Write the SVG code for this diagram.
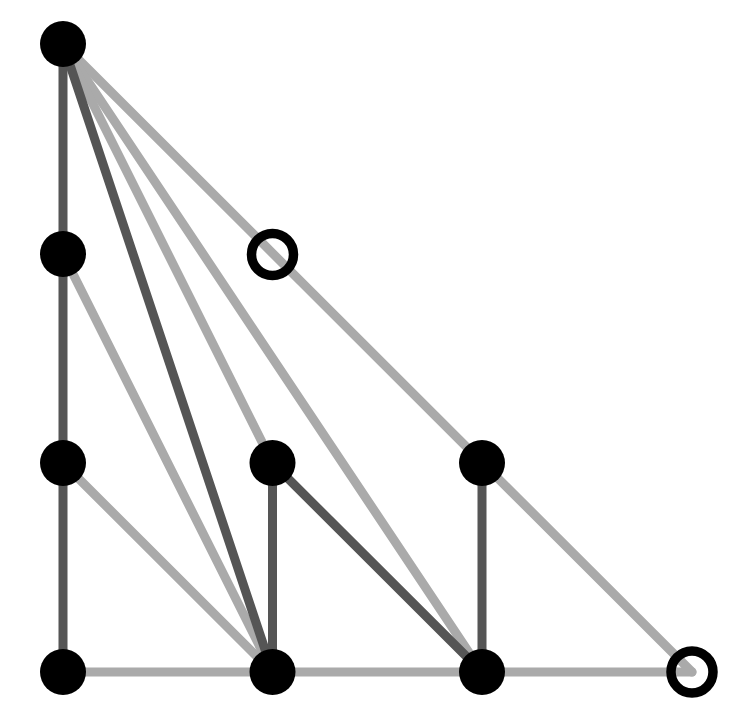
<svg xmlns="http://www.w3.org/2000/svg" width="748" height="726" viewBox="0 0 748 726">
<style>
.light{stroke:#aaaaaa;stroke-width:9;stroke-linecap:round;fill:none}
.dark{stroke:#555555;stroke-width:9;stroke-linecap:round;fill:none}
.node{fill:#000}
.open{fill:none;stroke:#000;stroke-width:9.5}
</style>
<rect width="748" height="726" fill="#fff"/>
<g id="connectors">
<line class="light" x1="63" y1="44" x2="692" y2="672"/>
<line class="light" x1="63" y1="44" x2="482" y2="672"/>
<line class="light" x1="63" y1="44" x2="272.5" y2="463"/>
<line class="light" x1="63" y1="254" x2="272.5" y2="672"/>
<line class="light" x1="63" y1="463" x2="272.5" y2="672"/>
<line class="light" x1="63" y1="672" x2="692" y2="672"/>
<line class="dark" x1="63" y1="44" x2="63" y2="672"/>
<line class="dark" x1="63" y1="44" x2="272.5" y2="672"/>
<line class="dark" x1="272.5" y1="463" x2="272.5" y2="672"/>
<line class="dark" x1="272.5" y1="463" x2="482" y2="672"/>
<line class="dark" x1="482" y1="463" x2="482" y2="672"/>
</g>
<g id="n1"><circle class="node" cx="63" cy="44" r="23"/></g>
<g id="n2"><circle class="node" cx="63" cy="254" r="23"/></g>
<g id="n3"><circle class="node" cx="63" cy="463" r="23"/></g>
<g id="n4"><circle class="node" cx="63" cy="672" r="23"/></g>
<g id="n5"><circle class="open" cx="272.5" cy="254.5" r="21"/></g>
<g id="n6"><circle class="node" cx="272.5" cy="463" r="23"/></g>
<g id="n7"><circle class="node" cx="272.5" cy="672" r="23"/></g>
<g id="n8"><circle class="node" cx="482" cy="463" r="23"/></g>
<g id="n9"><circle class="node" cx="482" cy="672" r="23"/></g>
<g id="n10"><circle class="open" cx="692" cy="672" r="21"/></g>
</svg>
